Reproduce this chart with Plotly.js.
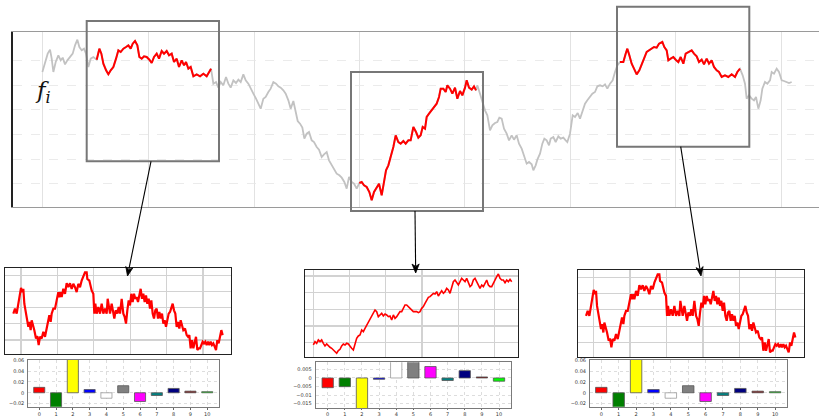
<!DOCTYPE html>
<html>
<head>
<meta charset="utf-8">
<script src="https://cdn.plot.ly/plotly-3.0.1.min.js"></script>
<style>html,body{margin:0;padding:0;background:#fff;}#chart{width:819px;height:416px;}</style>
</head>
<body>
<div id="chart"></div>
<script>
// ---------- DATA ----------
// main series f_i (time step, value)
const mainX = [127,135,143,150,155,160,167,175,182,188,195,202,210,218,225,232,238,245,252,258,265,272,280,290,
298,304,310,318,325,332,340,348,355,362,370,378,385,392,398,405,412,418,425,432,440,448,455,462,470,477,485,492,500,507,515,522,530,537,545,552,558,565,572,580,590,600,610,620,627,633,
640,648,655,662,670,678,685,692,700,708,715,722,730,737,745,752,760,768,775,782,790,797,805,812,820,828,835,842,850,857,865,872,880,887,893,900,907,913,920,927,935,942,950,957,965,972,980,987,995,1003,1010,1018,1025,1033,1040,1047,1055,1062,1070,1078,
1085,1092,1100,1108,1115,1122,1130,1137,1145,1152,1158,1165,1172,1180,1187,1195,1202,1210,1217,1225,1232,1240,1248,1255,1262,1268,1275,1280,1287,1295,1302,1310,1317,1322,1330,1337,1342,1350,1357,1365,1372,1380,1387,1395,1400,1407,1415,1422,1428,
1432,1440,1447,1455,1462,1470,1477,1485,1492,1498,1505,1512,1520,1527,1535,1542,1550,1557,1565,1572,1580,1587,1595,1600,1607,1612,1620,1627,1633,1640,1647,1652,1660,1667,1675,1682,1690,1697,1702,1710,1718,1725,1733,1740,1747,1755,1762,1770,1777,1785,1792,1800,1808,1815,1822,1830,1838,1845,1852,1860,
1870,1877,1882,1888,1895,1902,1910,1918,1925,1932,1940,1947,1955,1962,1970,1977,1987,1993,2000,2005,2012,2020,2027,2035,2042,2050,2057,2065,2075,2082,2090,2097,2105,2112,2120,2127,2135,2142,2150,2157,2165,2175,2185,2195,2205,2212,2220,
2228,2235,2240,2247,2255,2262,2268,2275,2282,2287,2295,2302,2310,2315,2322,2330,2337,2345,2352,2360,2367,2375];
const mainY = [405,435,460,472,445,405,435,455,440,448,428,440,452,460,485,502,480,470,475,460,420,445,450,442,
475,460,430,410,398,410,420,445,470,465,475,480,485,475,490,498,485,450,445,452,450,442,432,450,460,445,468,460,468,455,460,435,445,420,440,425,435,415,420,392,398,392,400,392,405,415,
370,375,358,375,365,390,370,358,380,372,382,375,398,380,370,358,340,325,310,295,325,330,345,355,375,370,362,358,350,340,320,295,318,280,258,250,238,205,220,225,200,195,180,172,150,158,165,140,125,110,100,95,88,75,55,90,75,70,55,72,
75,65,60,45,20,45,60,70,35,80,110,125,150,180,215,195,190,198,190,200,200,240,225,208,215,240,235,270,280,290,302,310,330,355,355,345,365,355,340,358,325,348,335,358,380,358,352,362,350,
365,340,315,290,275,230,245,252,255,268,265,235,220,200,215,202,215,190,175,152,130,135,128,110,125,142,160,190,205,200,185,205,210,195,212,205,208,200,195,220,275,270,282,265,285,310,320,330,340,345,362,365,362,368,355,370,380,405,425,435,
435,460,475,455,430,415,398,410,425,445,465,470,475,480,478,490,495,480,470,440,445,450,442,435,450,430,460,465,470,460,452,435,442,428,445,430,440,420,410,405,390,395,390,398,390,405,415,
395,370,325,335,325,320,330,295,320,355,375,370,380,405,400,415,405,380,378,375,372,375];
// highlighted windows (start step, end step)
const windowStart = [290, 1078, 1860];
const windowEnd   = [633, 1428, 2220];

// zoomed window A (shown at left and right)
const zoomAX = [40,45,50,55,60,63,67,70,73,77,80,85,88,92,95,100,103,108,112,116,120,125,130,135,140,145,148,152,155,160,165,170,175,178,182,185,190,195,200,205,210,215,220,225,230,235,240,245,250,255,260,262,268,272,275,280,283,286,290,295,300,305,310,315,320,323,327,330,335,340,343,347,352,356,360,365,370,374,378,382,386,390,394,398,402,406,410,414,418,422,426,430,434,438,442,446,450,454,458,462,466,470,474,478,482,486,490,494,498,502,506,510,514,518,522,526,530,534,538,542,546,550,555,560,564,568,572,576,580,584,588,592,596,600,604,608,612,616,620,624,628,632,636,640,644,648,652,656,660,664,668];
const zoomAY = [123,138,123,153,188,201,188,198,153,133,118,83,98,73,103,88,73,48,55,28,53,48,68,53,78,93,118,98,123,138,138,163,188,173,188,173,198,183,215,203,215,198,213,203,188,213,203,223,233,248,248,228,223,203,193,183,123,153,123,143,123,153,123,138,123,168,148,123,153,123,108,133,123,143,123,168,123,113,93,133,163,148,183,158,183,168,173,158,183,198,168,183,158,178,153,168,138,163,123,108,133,138,108,128,108,123,93,103,83,108,123,128,138,153,133,123,83,98,78,103,88,73,78,58,53,58,18,43,18,33,53,13,18,18,28,38,33,38,28,38,28,38,28,33,23,13,43,33,53,73,58];

// zoomed window B (middle)
const zoomBX = [55,60,65,70,75,80,85,90,95,100,105,110,115,120,125,130,135,140,145,150,155,160,165,170,175,180,185,190,195,200,205,210,215,220,225,230,235,240,245,250,255,260,265,270,275,280,285,290,295,300,305,310,315,320,325,330,335,340,345,350,355,360,365,370,375,380,385,390,395,400,405,410,415,420,425,430,435,440,445,450,455,460,465,470,475,480,485,490,495,500,505,510,515,520,525,530,535,540,545,550,555,560,565,570,575,580,585,590,595,600,605,610,615,620,625,630,635,640,645,650];
const zoomBY = [37,47,42,52,47,52,42,34,40,34,30,27,22,17,12,20,24,34,40,37,42,40,32,27,22,42,57,64,67,82,77,87,97,107,117,127,137,142,137,122,127,132,124,130,127,122,124,112,127,117,122,132,137,137,147,157,157,152,147,142,137,137,137,134,137,147,152,162,172,180,182,187,192,190,197,184,194,200,192,197,207,202,192,207,227,232,222,217,227,237,232,227,237,222,212,217,232,237,227,212,207,217,212,222,232,217,212,212,222,237,242,250,237,232,232,224,232,227,234,227];

// feature weights
const featureIdx = [0,1,2,3,4,5,6,7,8,9,10];
const featureColors = ['#ff0000','#008000','#ffff00','#0000ff','#ffffff','#808080','#ff00ff','#008080','#000080','#800000','#00ff00'];
const weightsA = [0.010,-0.030,0.066,0.006,-0.010,0.013,-0.016,-0.005,0.008,0.003,0.002];
const weightsB = [-0.0057,-0.0051,-0.020,-0.0008,0.010,0.010,0.0067,-0.0015,0.0043,0.0006,-0.0019];

// ---------- LAYOUT HELPERS ----------
const W = 819, H = 416;
const dx = (a, b) => [a / W, b / W];
const dy = (top, bottom) => [1 - bottom / H, 1 - top / H];
const px = x => x / W, py = y => 1 - y / H;

function inWin(k) {
  const xs = [], ys = [];
  mainX.forEach((x, i) => { if (x >= windowStart[k] && x <= windowEnd[k]) { xs.push(x); ys.push(mainY[i]); } });
  return {xs, ys};
}

const traces = [];
traces.push({x: mainX, y: mainY, type: 'scatter', mode: 'lines', line: {color: '#c2c2c2', width: 1.8}, xaxis: 'x', yaxis: 'y', hoverinfo: 'skip'});
for (let k = 0; k < 3; k++) {
  const w = inWin(k);
  traces.push({x: w.xs, y: w.ys, type: 'scatter', mode: 'lines', line: {color: '#ff0000', width: 2}, xaxis: 'x', yaxis: 'y'});
}
traces.push({x: zoomAX, y: zoomAY, type: 'scatter', mode: 'lines', line: {color: '#ff0000', width: 2.2}, xaxis: 'x2', yaxis: 'y2'});
traces.push({x: zoomBX, y: zoomBY, type: 'scatter', mode: 'lines', line: {color: '#ff0000', width: 1.6}, xaxis: 'x3', yaxis: 'y3'});
traces.push({x: zoomAX, y: zoomAY, type: 'scatter', mode: 'lines', line: {color: '#ff0000', width: 2.2}, xaxis: 'x4', yaxis: 'y4'});
const barLine = featureColors.map(c => c === '#ffffff' ? '#999' : '#555');
[['x5','y5',weightsA],['x6','y6',weightsB],['x7','y7',weightsA]].forEach(([xa, ya, w]) => {
  traces.push({x: featureIdx, y: w, type: 'bar', width: 0.66, marker: {color: featureColors, line: {color: barLine, width: 0.8}}, xaxis: xa, yaxis: ya});
});

const subGrid = {showgrid: true, gridcolor: '#d2d2d2', gridwidth: 1.2, showline: true, mirror: true, linecolor: '#222', linewidth: 1, ticks: '', showticklabels: false, zeroline: false, fixedrange: true};
const barX = {showgrid: true, gridcolor: '#d4d4d4', griddash: 'dot', gridwidth: 0.8, showline: true, mirror: true, linecolor: '#7a7a7a', linewidth: 1,
  tickmode: 'array', tickvals: featureIdx, ticks: 'outside', ticklen: 2, tickcolor: '#666', tickfont: {size: 5, color: '#333', family: 'DejaVu Sans'}, zeroline: false};
const barY = {showgrid: true, gridcolor: '#d4d4d4', griddash: 'dot', gridwidth: 0.8, showline: true, mirror: true, linecolor: '#7a7a7a', linewidth: 1,
  ticks: '', tickfont: {size: 5, color: '#333', family: 'DejaVu Sans'}, zeroline: false, ticklabelstandoff: 2};

const layout = {
  width: W, height: H, margin: {l: 0, r: 0, t: 0, b: 0, pad: 0},
  paper_bgcolor: '#fff', plot_bgcolor: 'rgba(0,0,0,0)', showlegend: false,
  xaxis: {domain: dx(12.7, 819), range: [38, 2457], tickmode: 'array', tickvals: [127,445,762,1078,1393,1712,2027,2344],
    showgrid: true, gridcolor: '#e2e2e2', gridwidth: 1, showline: true, mirror: true, linecolor: '#9a9a9a', linewidth: 1.2, showticklabels: false, ticks: '', zeroline: false},
  yaxis: {domain: dy(32, 207), range: [0, 525], tickmode: 'array', tickvals: [71,144,217,292,365,439],
    showgrid: true, gridcolor: '#e6e6e6', griddash: 'dash', gridwidth: 0.8, showline: true, linecolor: '#222', linewidth: 1.6, showticklabels: false, ticks: '', zeroline: false},
  xaxis2: Object.assign({}, subGrid, {domain: dx(5, 231), range: [15, 693], tick0: 63, dtick: 109.2}),
  yaxis2: Object.assign({}, subGrid, {domain: dy(268, 354.3), range: [0, 261], tick0: 43, dtick: 49}),
  xaxis3: Object.assign({}, subGrid, {domain: dx(305, 517.7), range: [30, 668], tick0: 55, dtick: 108.7}),
  yaxis3: Object.assign({}, subGrid, {domain: dy(270, 357.3), range: [0, 262], tick0: 44, dtick: 50}),
  xaxis4: Object.assign({}, subGrid, {domain: dx(577.7, 803.7), range: [15, 693], tick0: 63, dtick: 109.2}),
  yaxis4: Object.assign({}, subGrid, {domain: dy(270, 356.7), range: [0, 261], tick0: 43, dtick: 49}),
  xaxis5: Object.assign({}, barX, {domain: dx(28.3, 219), range: [-0.65, 10.7], anchor: 'y5'}),
  yaxis5: Object.assign({}, barY, {domain: dy(360, 406.7), range: [-0.0256, 0.0603], dtick: 0.02, anchor: 'x5'}),
  xaxis6: Object.assign({}, barX, {domain: dx(315.7, 511), range: [-0.7, 10.7], anchor: 'y6', ticklen: 1, ticklabelstandoff: 0}),
  yaxis6: Object.assign({}, barY, {domain: dy(362.3, 408.3), range: [-0.0178, 0.0092], dtick: 0.005, anchor: 'x6'}),
  xaxis7: Object.assign({}, barX, {domain: dx(590, 787.3), range: [-0.65, 10.7], anchor: 'y7'}),
  yaxis7: Object.assign({}, barY, {domain: dy(360, 406.7), range: [-0.0256, 0.0603], dtick: 0.02, anchor: 'x7'}),
  shapes: [],
  annotations: []
};
['2','3','4'].forEach(n => { layout['xaxis' + n].anchor = 'y' + n; layout['yaxis' + n].anchor = 'x' + n; });

// zoom boxes
const boxes = [[86.7, 21, 219, 161.3], [351, 72, 483, 211], [617, 6.7, 749.3, 146.7]];
boxes.forEach(b => layout.shapes.push({type: 'rect', xref: 'paper', yref: 'paper', x0: px(b[0]), x1: px(b[2]), y0: py(b[3]), y1: py(b[1]),
  line: {color: '#777', width: 2}, fillcolor: 'rgba(0,0,0,0)', layer: 'above'}));

// arrows: [tailX, tailY, tipX, tipY] drawn as a line plus a filled triangle head
const arrows = [[151, 161.3, 127.5, 276], [415, 211, 415.7, 273], [680.7, 146.7, 701, 276]];
const headLen = 9, headHalf = 3.6;
arrows.forEach(a => {
  const [tx, ty, hx, hy] = a;
  const L = Math.hypot(hx - tx, hy - ty), ux = (hx - tx) / L, uy = (hy - ty) / L;
  const bx = hx - ux * headLen, by = hy - uy * headLen;
  layout.shapes.push({type: 'line', xref: 'paper', yref: 'paper', x0: px(tx), y0: py(ty), x1: px(bx + ux * 2), y1: py(by + uy * 2),
    line: {color: '#000', width: 1.1}, layer: 'above'});
  const p1 = [bx - uy * headHalf, by + ux * headHalf], p2 = [bx + uy * headHalf, by - ux * headHalf];
  const path = `M ${px(hx)} ${py(hy)} L ${px(p1[0])} ${py(p1[1])} L ${px(bx + ux * 2.5)} ${py(by + uy * 2.5)} L ${px(p2[0])} ${py(p2[1])} Z`;
  layout.shapes.push({type: 'path', xref: 'paper', yref: 'paper', path: path, fillcolor: '#000', line: {color: '#000', width: 0.8}, layer: 'above'});
});

layout.annotations.push({xref: 'paper', yref: 'paper', x: px(43), y: py(92), text: '<i>f</i><sub><i>i</i></sub>', showarrow: false,
  font: {family: 'DejaVu Serif', size: 23, color: '#111'}, xanchor: 'center', yanchor: 'middle'});

Plotly.newPlot('chart', traces, layout, {displayModeBar: false, staticPlot: true});
</script>
</body>
</html>
